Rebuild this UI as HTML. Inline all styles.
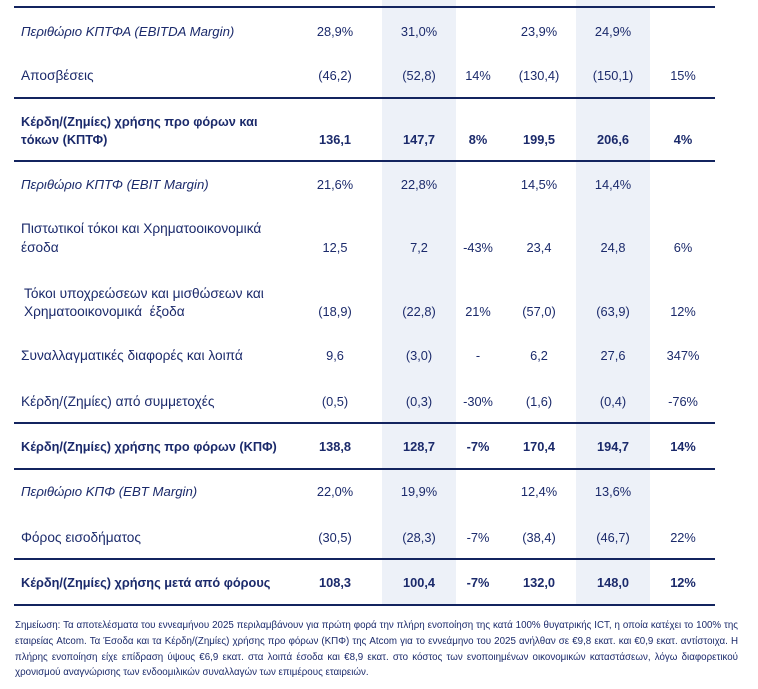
<!DOCTYPE html>
<html><head><meta charset="utf-8">
<style>
html,body{margin:0;padding:0;background:#fff;}
body{width:758px;height:689px;position:relative;overflow:hidden;font-family:"Liberation Sans","Noto Sans CJK SC",sans-serif;color:#1b2a6b;}
.sh{position:absolute;top:0;height:605px;background:#edf1f8;}
.ln{position:absolute;left:14px;width:701px;height:2px;background:#13245f;}
.t{position:absolute;font-size:13.7px;line-height:18px;white-space:nowrap;}
.l{left:21px;}
.t.i{font-style:italic;font-size:13.2px;}
.t.b{font-weight:bold;font-size:12.75px;}
.n.b{font-weight:bold;}
.n{position:absolute;font-size:12.8px;line-height:18px;white-space:nowrap;width:90px;text-align:center;}
.c1{left:290px}.c2{left:374px}.c3{left:433px}.c4{left:494px}.c5{left:568px}.c6{left:638px}
.note{position:absolute;left:15px;width:723px;font-size:9.75px;line-height:15.8px;top:618px;}
.note div{text-align:justify;text-align-last:justify;white-space:nowrap;}
.note div.last{text-align-last:left;}
</style></head><body>
<div class="sh" style="left:382px;width:74px"></div>
<div class="sh" style="left:576px;width:74px"></div>

<div class="ln" style="top:6px"></div>
<div class="ln" style="top:97px"></div>
<div class="ln" style="top:160px"></div>
<div class="ln" style="top:422px"></div>
<div class="ln" style="top:468px"></div>
<div class="ln" style="top:558px"></div>
<div class="ln" style="top:604px"></div>

<!-- EBITDA margin -->
<div class="t l i" style="top:23px">Περιθώριο ΚΠΤΦΑ (EBITDA Margin)</div>
<div class="n c1" style="top:23px">28,9%</div>
<div class="n c2" style="top:23px">31,0%</div>
<div class="n c4" style="top:23px">23,9%</div>
<div class="n c5" style="top:23px">24,9%</div>

<!-- Αποσβέσεις -->
<div class="t l" style="top:67px">Αποσβέσεις</div>
<div class="n c1" style="top:67px">(46,2)</div>
<div class="n c2" style="top:67px">(52,8)</div>
<div class="n c3" style="top:67px">14%</div>
<div class="n c4" style="top:67px">(130,4)</div>
<div class="n c5" style="top:67px">(150,1)</div>
<div class="n c6" style="top:67px">15%</div>

<!-- ΚΠΤΦ -->
<div class="t l b" style="top:113px">Κέρδη/(Ζημίες) χρήσης προ φόρων και</div>
<div class="t l b" style="top:131px">τόκων (ΚΠΤΦ)</div>
<div class="n b c1" style="top:131px">136,1</div>
<div class="n b c2" style="top:131px">147,7</div>
<div class="n b c3" style="top:131px">8%</div>
<div class="n b c4" style="top:131px">199,5</div>
<div class="n b c5" style="top:131px">206,6</div>
<div class="n b c6" style="top:131px">4%</div>

<!-- EBIT margin -->
<div class="t l i" style="top:176px">Περιθώριο ΚΠΤΦ (EBIT Margin)</div>
<div class="n c1" style="top:176px">21,6%</div>
<div class="n c2" style="top:176px">22,8%</div>
<div class="n c4" style="top:176px">14,5%</div>
<div class="n c5" style="top:176px">14,4%</div>

<!-- Πιστωτικοί -->
<div class="t l" style="top:220px">Πιστωτικοί τόκοι και Χρηματοοικονομικά</div>
<div class="t l" style="top:239px">έσοδα</div>
<div class="n c1" style="top:239px">12,5</div>
<div class="n c2" style="top:239px">7,2</div>
<div class="n c3" style="top:239px">-43%</div>
<div class="n c4" style="top:239px">23,4</div>
<div class="n c5" style="top:239px">24,8</div>
<div class="n c6" style="top:239px">6%</div>

<!-- Τόκοι -->
<div class="t" style="left:24px;top:285px">Τόκοι υποχρεώσεων και μισθώσεων και</div>
<div class="t" style="left:24px;top:303px">Χρηματοοικονομικά&nbsp; έξοδα</div>
<div class="n c1" style="top:303px">(18,9)</div>
<div class="n c2" style="top:303px">(22,8)</div>
<div class="n c3" style="top:303px">21%</div>
<div class="n c4" style="top:303px">(57,0)</div>
<div class="n c5" style="top:303px">(63,9)</div>
<div class="n c6" style="top:303px">12%</div>

<!-- Συναλλαγματικές -->
<div class="t l" style="top:347px">Συναλλαγματικές διαφορές και λοιπά</div>
<div class="n c1" style="top:347px">9,6</div>
<div class="n c2" style="top:347px">(3,0)</div>
<div class="n c3" style="top:347px">-</div>
<div class="n c4" style="top:347px">6,2</div>
<div class="n c5" style="top:347px">27,6</div>
<div class="n c6" style="top:347px">347%</div>

<!-- Συμμετοχές -->
<div class="t l" style="top:393px">Κέρδη/(Ζημίες) από συμμετοχές</div>
<div class="n c1" style="top:393px">(0,5)</div>
<div class="n c2" style="top:393px">(0,3)</div>
<div class="n c3" style="top:393px">-30%</div>
<div class="n c4" style="top:393px">(1,6)</div>
<div class="n c5" style="top:393px">(0,4)</div>
<div class="n c6" style="top:393px">-76%</div>

<!-- ΚΠΦ -->
<div class="t l b" style="top:438px">Κέρδη/(Ζημίες) χρήσης προ φόρων (ΚΠΦ)</div>
<div class="n b c1" style="top:438px">138,8</div>
<div class="n b c2" style="top:438px">128,7</div>
<div class="n b c3" style="top:438px">-7%</div>
<div class="n b c4" style="top:438px">170,4</div>
<div class="n b c5" style="top:438px">194,7</div>
<div class="n b c6" style="top:438px">14%</div>

<!-- EBT margin -->
<div class="t l i" style="top:483px">Περιθώριο ΚΠΦ (EBT Margin)</div>
<div class="n c1" style="top:483px">22,0%</div>
<div class="n c2" style="top:483px">19,9%</div>
<div class="n c4" style="top:483px">12,4%</div>
<div class="n c5" style="top:483px">13,6%</div>

<!-- Φόρος -->
<div class="t l" style="top:529px">Φόρος εισοδήματος</div>
<div class="n c1" style="top:529px">(30,5)</div>
<div class="n c2" style="top:529px">(28,3)</div>
<div class="n c3" style="top:529px">-7%</div>
<div class="n c4" style="top:529px">(38,4)</div>
<div class="n c5" style="top:529px">(46,7)</div>
<div class="n c6" style="top:529px">22%</div>

<!-- Μετά φόρων -->
<div class="t l b" style="top:574px">Κέρδη/(Ζημίες) χρήσης μετά από φόρους</div>
<div class="n b c1" style="top:574px">108,3</div>
<div class="n b c2" style="top:574px">100,4</div>
<div class="n b c3" style="top:574px">-7%</div>
<div class="n b c4" style="top:574px">132,0</div>
<div class="n b c5" style="top:574px">148,0</div>
<div class="n b c6" style="top:574px">12%</div>

<div class="note">
<div>Σημείωση: Τα αποτελέσματα του εννεαμήνου 2025 περιλαμβάνουν για πρώτη φορά την πλήρη ενοποίηση της κατά 100% θυγατρικής ICT, η οποία κατέχει το 100% της</div>
<div>εταιρείας Atcom. Τα Έσοδα και τα Κέρδη/(Ζημίες) χρήσης προ φόρων (ΚΠΦ) της Atcom για το εννεάμηνο του 2025 ανήλθαν σε €9,8 εκατ. και €0,9 εκατ. αντίστοιχα. Η</div>
<div>πλήρης ενοποίηση είχε επίδραση ύψους €6,9 εκατ. στα λοιπά έσοδα και €8,9 εκατ. στο κόστος των ενοποιημένων οικονομικών καταστάσεων, λόγω διαφορετικού</div>
<div class="last">χρονισμού αναγνώρισης των ενδοομιλικών συναλλαγών των επιμέρους εταιρειών.</div>
</div>
</body></html>
